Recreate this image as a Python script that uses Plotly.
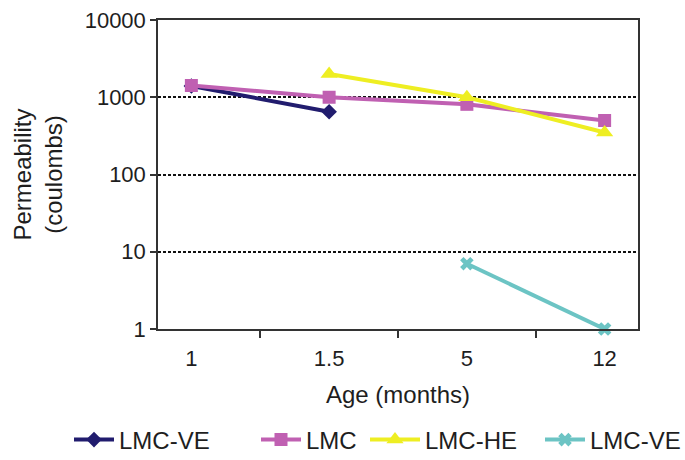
import plotly.graph_objects as go

# Age categories (months) and permeability readings (coulombs)
ages = ["1", "1.5", "5", "12"]
lmc_ve = [1400, 650, None, None]
lmc = [1420, 1000, 810, 500]
lmc_he = [None, 2000, 1000, 350]
lmc_ve2 = [None, None, 7, 1]

y_ticks = [1, 10, 100, 1000, 10000]
y_ticktext = ["1", "10", "100", "1000", "10000"]

FONT = "Liberation Sans, Arial, sans-serif"
TXT = "#1e1e1e"
W, H = 685, 460

# name, values, colour, marker, marker size, legend id, legend left (px), item width
series = [
    ("LMC-VE", lmc_ve, "#211C6E", "diamond", 12, "legend", 69, 40),
    ("LMC", lmc, "#C060B2", "square", 13, "legend2", 256, 40),
    ("LMC-HE", lmc_he, "#EEEE22", "triangle-up", 15, "legend3", 365, 50),
    ("LMC-VE", lmc_ve2, "#6CC4C4", "x", 12, "legend4", 540, 40),
]

fig = go.Figure()
legends = {}
for name, vals, color, symbol, size, leg, lx, iw in series:
    fig.add_trace(go.Scatter(
        x=ages, y=vals, name=name, mode="lines+markers",
        line=dict(color=color, width=4),
        marker=dict(symbol=symbol, size=size, color=color,
                    line=dict(width=0)),
        cliponaxis=False, legend=leg,
    ))
    legends[leg] = dict(
        orientation="h", xref="container", yref="container",
        x=lx / W, xanchor="left", y=1 - 440 / H, yanchor="middle",
        itemwidth=iw, font=dict(family=FONT, size=24, color=TXT),
        bgcolor="rgba(0,0,0,0)", borderwidth=0,
    )

fig.update_layout(
    width=W, height=H,
    margin=dict(l=158, r=47, t=20, b=131, autoexpand=False),
    paper_bgcolor="white", plot_bgcolor="white",
    font=dict(family=FONT, size=22, color=TXT),
    showlegend=True,
    **legends,
    xaxis=dict(
        type="category", categoryorder="array", categoryarray=ages,
        showline=True, linecolor="#333", linewidth=1.5, mirror=True,
        ticks="outside", tickson="boundaries", ticklen=7, tickcolor="#333",
        tickwidth=1.5, showgrid=False, ticklabelstandoff=9,
        tickfont=dict(family=FONT, size=22, color=TXT),
        title=dict(text="Age (months)", standoff=16,
                   font=dict(family=FONT, size=24, color=TXT)),
    ),
    yaxis=dict(
        type="log", range=[0, 4],
        tickvals=y_ticks, ticktext=y_ticktext,
        showline=True, linecolor="#333", linewidth=1.5, mirror=True,
        ticks="outside", ticklen=6, tickcolor="#333", tickwidth=1.5,
        showgrid=True, gridcolor="#111", gridwidth=2, griddash="3px,2px",
        zeroline=False,
        tickfont=dict(family=FONT, size=22, color=TXT),
        title=dict(text="Permeability<br>(coulombs)", standoff=15,
                   font=dict(family=FONT, size=24, color=TXT)),
    ),
)

fig.write_html("out.html")
